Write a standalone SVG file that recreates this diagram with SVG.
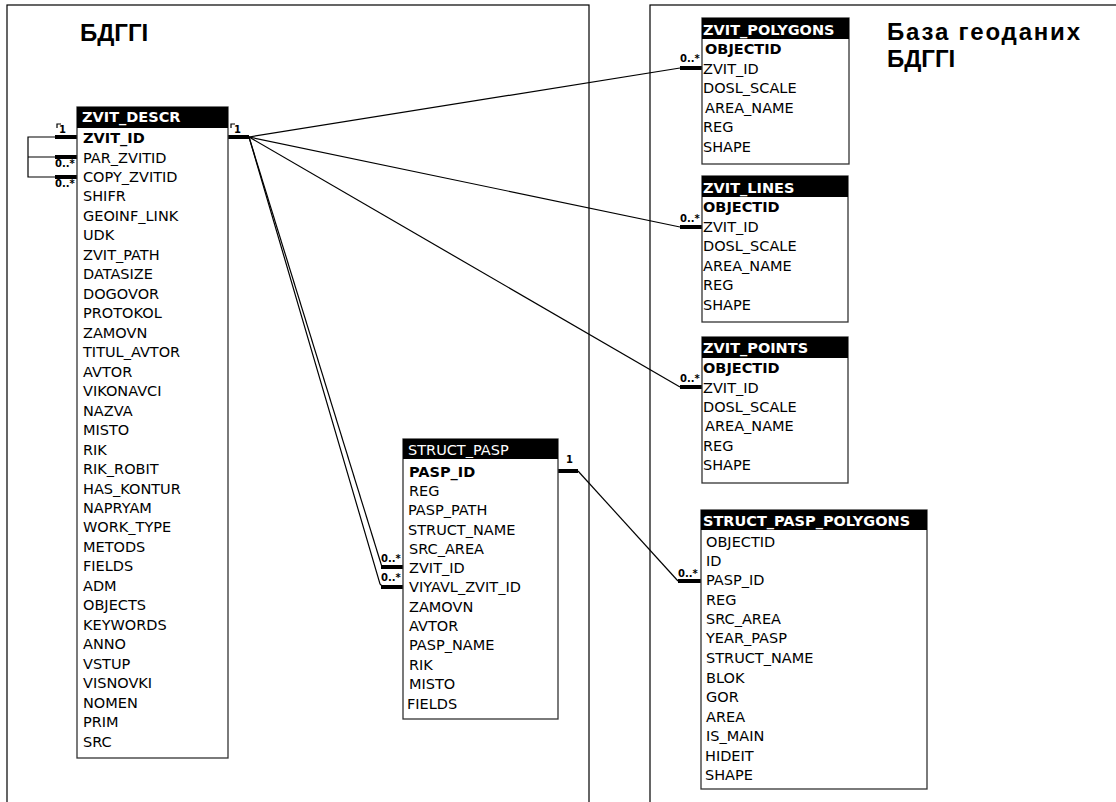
<svg xmlns="http://www.w3.org/2000/svg" width="1116" height="802" viewBox="0 0 1116 802">
<style>
.frame{fill:none;stroke:#000;stroke-width:1.2}
.box{fill:#fff;stroke:#333;stroke-width:1.3}
.hdr{fill:#000}
.ht{font-family:"DejaVu Sans",Verdana,sans-serif;font-size:14.5px;font-weight:bold;fill:#fff}
.htn{font-family:"DejaVu Sans",Verdana,sans-serif;font-size:14.5px;fill:#fff}
.f{font-family:"DejaVu Sans",Verdana,sans-serif;font-size:14.5px;fill:#000}
.fb{font-family:"DejaVu Sans",Verdana,sans-serif;font-size:14.5px;font-weight:bold;fill:#000}
.title{font-family:"Liberation Sans",Arial,sans-serif;font-size:24px;font-weight:bold;fill:#000}
.ln{fill:none;stroke:#000;stroke-width:1.2}
.bar{fill:none;stroke:#000;stroke-width:4}
.lbl{font-family:"DejaVu Sans",Verdana,sans-serif;font-size:10px;font-weight:bold;fill:#000}
</style>
<rect width="1116" height="802" fill="#fff"/>
<g id="frames">
<rect class="frame" x="7" y="5" width="582" height="820"/>
<rect class="frame" x="650" y="5" width="500" height="820"/>
<text class="title" x="80" y="41">БДГГІ</text>
<text class="title" x="887" y="40" letter-spacing="1.8">База геоданих</text>
<text class="title" x="887" y="67">БДГГІ</text>
</g>
<g id="connectors">
<path class="ln" d="M55,137 H28 V177 H55 M28,157 H55"/>
<path class="bar" d="M55,137 H77 M55,157 H77 M55,177 H77"/>
<path class="ln" d="M57,128 V124 H61"/>
<text class="lbl" x="59" y="133">1</text>
<text class="lbl" x="55" y="167">0..*</text>
<text class="lbl" x="55" y="187">0..*</text>
<path class="bar" d="M228,137 H249"/>
<path class="ln" d="M231,128 V124 H235"/>
<text class="lbl" x="234" y="133">1</text>
<path class="ln" d="M249,137 L680,68"/>
<path class="bar" d="M680,68 H702"/>
<text class="lbl" x="680" y="62">0..*</text>
<path class="ln" d="M249,137 L680,227"/>
<path class="bar" d="M680,227 H702"/>
<text class="lbl" x="680" y="222">0..*</text>
<path class="ln" d="M249,137 L680,387"/>
<path class="bar" d="M680,387 H702"/>
<text class="lbl" x="680" y="382">0..*</text>
<path class="ln" d="M249,137 L382,567"/>
<path class="bar" d="M381,567 H403"/>
<text class="lbl" x="381" y="562">0..*</text>
<path class="ln" d="M249,137 L380,584 L383,587"/>
<path class="bar" d="M381,587 H403"/>
<text class="lbl" x="381" y="581">0..*</text>
<path class="bar" d="M558,471 H578"/>
<text class="lbl" x="566" y="463">1</text>
<path class="ln" d="M578,471 L678,581"/>
<path class="bar" d="M678,581 H701"/>
<text class="lbl" x="678" y="577">0..*</text>
</g>
<g id="zvit_descr">
<rect class="box" x="77" y="107" width="151" height="651"/>
<rect class="hdr" x="77" y="107" width="151" height="21"/>
<text class="ht" x="82" y="122">ZVIT_DESCR</text>
<text class="fb" x="83" y="143">ZVIT_ID</text>
<text class="f" x="83" y="162.5">PAR_ZVITID</text>
<text class="f" x="83" y="181.9">COPY_ZVITID</text>
<text class="f" x="83" y="201.4">SHIFR</text>
<text class="f" x="83" y="220.9">GEOINF_LINK</text>
<text class="f" x="83" y="240.4">UDK</text>
<text class="f" x="83" y="259.8">ZVIT_PATH</text>
<text class="f" x="83" y="279.3">DATASIZE</text>
<text class="f" x="83" y="298.8">DOGOVOR</text>
<text class="f" x="83" y="318.2">PROTOKOL</text>
<text class="f" x="83" y="337.7">ZAMOVN</text>
<text class="f" x="83" y="357.2">TITUL_AVTOR</text>
<text class="f" x="83" y="376.6">AVTOR</text>
<text class="f" x="83" y="396.1">VIKONAVCI</text>
<text class="f" x="83" y="415.6">NAZVA</text>
<text class="f" x="83" y="435.1">MISTO</text>
<text class="f" x="83" y="454.5">RIK</text>
<text class="f" x="83" y="474">RIK_ROBIT</text>
<text class="f" x="83" y="493.5">HAS_KONTUR</text>
<text class="f" x="83" y="512.9">NAPRYAM</text>
<text class="f" x="83" y="532.4">WORK_TYPE</text>
<text class="f" x="83" y="551.9">METODS</text>
<text class="f" x="83" y="571.3">FIELDS</text>
<text class="f" x="83" y="590.8">ADM</text>
<text class="f" x="83" y="610.3">OBJECTS</text>
<text class="f" x="83" y="629.8">KEYWORDS</text>
<text class="f" x="83" y="649.2">ANNO</text>
<text class="f" x="83" y="668.7">VSTUP</text>
<text class="f" x="83" y="688.2">VISNOVKI</text>
<text class="f" x="83" y="707.6">NOMEN</text>
<text class="f" x="83" y="727.1">PRIM</text>
<text class="f" x="83" y="746.6">SRC</text>
</g>
<g id="zvit_polygons">
<rect class="box" x="702" y="18" width="147" height="146"/>
<rect class="hdr" x="702" y="18" width="147" height="21"/>
<text class="ht" x="703" y="35">ZVIT_POLYGONS</text>
<text class="fb" x="705" y="53.5">OBJECTID</text>
<text class="f" x="703" y="73.5">ZVIT_ID</text>
<text class="f" x="703" y="93">DOSL_SCALE</text>
<text class="f" x="705" y="112.5">AREA_NAME</text>
<text class="f" x="703" y="132">REG</text>
<text class="f" x="703" y="151.5">SHAPE</text>
</g>
<g id="zvit_lines">
<rect class="box" x="702" y="176" width="146" height="146"/>
<rect class="hdr" x="702" y="176" width="146" height="21"/>
<text class="ht" x="703" y="193">ZVIT_LINES</text>
<text class="fb" x="703" y="212">OBJECTID</text>
<text class="f" x="703" y="231.5">ZVIT_ID</text>
<text class="f" x="703" y="251">DOSL_SCALE</text>
<text class="f" x="703" y="270.5">AREA_NAME</text>
<text class="f" x="703" y="290">REG</text>
<text class="f" x="703" y="309.5">SHAPE</text>
</g>
<g id="zvit_points">
<rect class="box" x="702" y="337" width="146" height="146"/>
<rect class="hdr" x="702" y="337" width="146" height="21"/>
<text class="ht" x="703" y="353">ZVIT_POINTS</text>
<text class="fb" x="703" y="372.5">OBJECTID</text>
<text class="f" x="703" y="392.5">ZVIT_ID</text>
<text class="f" x="703" y="412">DOSL_SCALE</text>
<text class="f" x="705" y="431">AREA_NAME</text>
<text class="f" x="703" y="450.5">REG</text>
<text class="f" x="703" y="469.5">SHAPE</text>
</g>
<g id="struct_pasp">
<rect class="box" x="403" y="439" width="155" height="280"/>
<rect class="hdr" x="403" y="439" width="155" height="20"/>
<text class="htn" x="408" y="455">STRUCT_PASP</text>
<text class="fb" x="409" y="476.5">PASP_ID</text>
<text class="f" x="409" y="495.5">REG</text>
<text class="f" x="408" y="515">PASP_PATH</text>
<text class="f" x="408" y="534.5">STRUCT_NAME</text>
<text class="f" x="409" y="553.5">SRC_AREA</text>
<text class="f" x="409" y="572.5">ZVIT_ID</text>
<text class="f" x="409" y="592">VIYAVL_ZVIT_ID</text>
<text class="f" x="409" y="611.5">ZAMOVN</text>
<text class="f" x="409" y="630.5">AVTOR</text>
<text class="f" x="409" y="650">PASP_NAME</text>
<text class="f" x="409" y="669.5">RIK</text>
<text class="f" x="409" y="689">MISTO</text>
<text class="f" x="407" y="708.5">FIELDS</text>
</g>
<g id="struct_pasp_polygons">
<rect class="box" x="701" y="510" width="226" height="279"/>
<rect class="hdr" x="701" y="510" width="226" height="20"/>
<text class="ht" x="703" y="526">STRUCT_PASP_POLYGONS</text>
<text class="f" x="706" y="546.5">OBJECTID</text>
<text class="f" x="706" y="566">ID</text>
<text class="f" x="706" y="585">PASP_ID</text>
<text class="f" x="706" y="604.5">REG</text>
<text class="f" x="706" y="624">SRC_AREA</text>
<text class="f" x="706" y="643">YEAR_PASP</text>
<text class="f" x="706" y="663">STRUCT_NAME</text>
<text class="f" x="706" y="682.5">BLOK</text>
<text class="f" x="706" y="702">GOR</text>
<text class="f" x="706" y="721.5">AREA</text>
<text class="f" x="706" y="741">IS_MAIN</text>
<text class="f" x="705" y="760.5">HIDEIT</text>
<text class="f" x="705" y="780">SHAPE</text>
</g>
</svg>
